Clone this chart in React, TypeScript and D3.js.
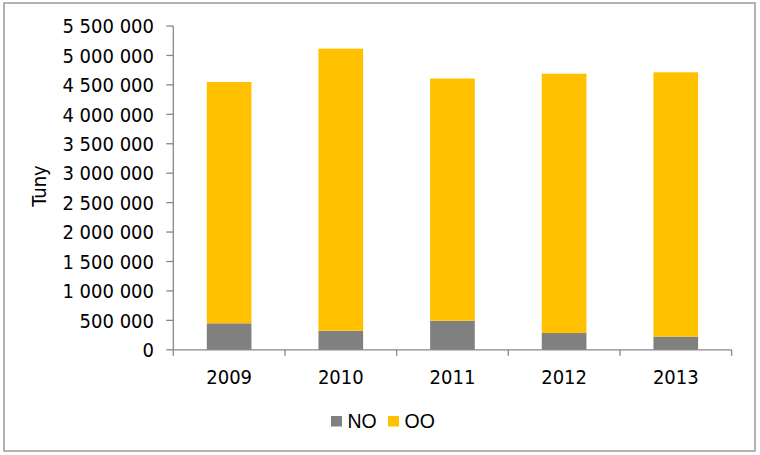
import React from "react";
import * as d3 from "d3";

const years = ["2009", "2010", "2011", "2012", "2013"];
const noValues = [450000, 324000, 494000, 285000, 223000];
const ooValues = [4099000, 4791000, 4114000, 4405000, 4491000];
const yTicks = [0, 500000, 1000000, 1500000, 2000000, 2500000, 3000000, 3500000, 4000000, 4500000, 5000000, 5500000];
const seriesNames = ["NO", "OO"];
const seriesColors = ["#808080", "#FFC000"];
const yLabel = "Tuny";

const W = 760;
const H = 455;
const left = 173.3;
const right = 731.6;
const top = 26;
const bottom = 349.8;

const tickFont = "'DejaVu Sans Condensed', 'DejaVu Sans', sans-serif";
const legendFont = "'Liberation Sans', Arial, sans-serif";

export default function App() {
  const x = d3.scaleBand<string>().domain(years).range([left, right]).paddingInner(0.6).paddingOuter(0.3);
  const y = d3.scaleLinear().domain([0, 5500000]).range([bottom, top]);
  const locale = d3.formatLocale({ decimal: ",", thousands: " ", grouping: [3], currency: ["", ""] });
  const fmt = locale.format(",d");

  const table = years.map((yr, i) => ({ year: yr, NO: noValues[i], OO: ooValues[i] }));
  const stack = d3.stack<any>().keys(seriesNames)(table);

  const step = x.step();
  const xTickPos = d3.range(years.length + 1).map((i) => left + i * step);
  const axisColor = "#878787";

  return (
    <svg width={W} height={H} style={{ position: "absolute", left: 0, top: 0, background: "#fff" }}>
      <rect x={4} y={3} width={751} height={448} fill="#fff" stroke="#9a9a9a" strokeWidth={1.5} />
      {stack.map((s, si) => (
        <g key={seriesNames[si]} fill={seriesColors[si]}>
          {s.map((d, i) => (
            <rect
              key={years[i]}
              x={x(years[i])}
              y={y(d[1])}
              width={x.bandwidth()}
              height={y(d[0]) - y(d[1])}
            />
          ))}
        </g>
      ))}
      {/* y axis */}
      <line x1={left} x2={left} y1={top} y2={bottom} stroke={axisColor} strokeWidth={1.3} />
      {yTicks.map((t) => (
        <g key={t}>
          <line x1={left - 7} x2={left} y1={y(t)} y2={y(t)} stroke={axisColor} strokeWidth={1.3} />
          <text
            x={154}
            y={y(t)}
            dy="0.36em"
            textAnchor="end"
            fontFamily={tickFont}
            fontStretch="condensed"
            fontSize={20}
            fill="#000"
          >
            {fmt(t)}
          </text>
        </g>
      ))}
      {/* x axis */}
      <line x1={left} x2={right} y1={bottom} y2={bottom} stroke={axisColor} strokeWidth={1.3} />
      {xTickPos.map((p, i) => (
        <line key={i} x1={p} x2={p} y1={bottom} y2={bottom + 6} stroke={axisColor} strokeWidth={1.3} />
      ))}
      {years.map((yr) => (
        <text
          key={yr}
          x={(x(yr) as number) + x.bandwidth() / 2}
          y={384}
          textAnchor="middle"
          fontFamily={tickFont}
          fontStretch="condensed"
          fontSize={20}
          fill="#000"
        >
          {yr}
        </text>
      ))}
      <text
        transform={`translate(46,186) rotate(-90)`}
        textAnchor="middle"
        fontFamily={tickFont}
        fontStretch="condensed"
        fontSize={20}
        fill="#000"
      >
        {yLabel}
      </text>
      {/* legend */}
      {seriesNames.map((n, i) => {
        const lx = [331, 388][i];
        return (
          <g key={n}>
            <rect x={lx} y={416} width={11} height={10.5} fill={seriesColors[i]} />
            <text x={lx + 16.5} y={427.5} fontFamily={legendFont} fontSize={19.5} fill="#000">
              {n}
            </text>
          </g>
        );
      })}
    </svg>
  );
}
